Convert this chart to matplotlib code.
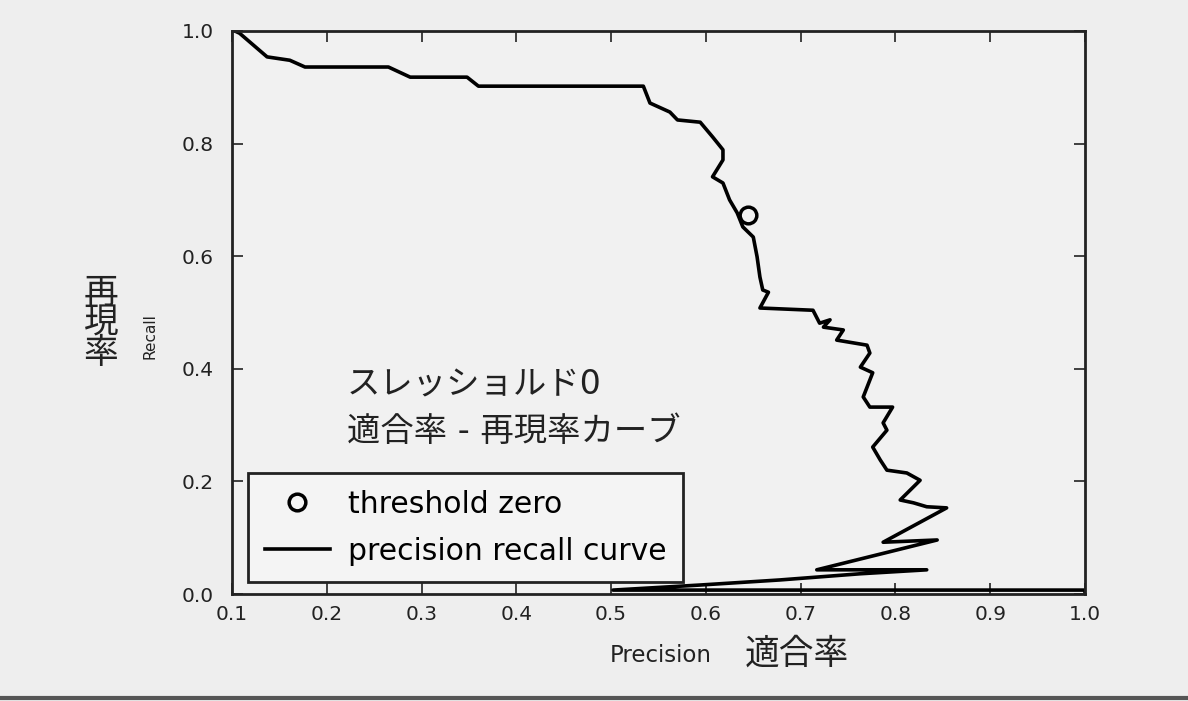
import numpy as np
import matplotlib
matplotlib.use("Agg")
import matplotlib.pyplot as plt
from matplotlib.lines import Line2D

plt.rcParams['font.family'] = ['DejaVu Sans', 'Noto Sans CJK JP']

# precision / recall pairs along the curve, from low threshold to high threshold
precision = [0.103, 0.108, 0.137, 0.161, 0.177, 0.265, 0.288, 0.348, 0.360, 0.534,
             0.541, 0.562, 0.570, 0.594, 0.607, 0.618, 0.618, 0.607, 0.618, 0.625,
             0.633, 0.639, 0.650, 0.654, 0.657, 0.660, 0.666, 0.657, 0.713, 0.720,
             0.731, 0.724, 0.745, 0.738, 0.770, 0.773, 0.763, 0.776, 0.766, 0.773,
             0.797, 0.787, 0.791, 0.776, 0.784, 0.791, 0.812, 0.826, 0.805, 0.819,
             0.833, 0.854, 0.787, 0.844, 0.717, 0.833, 0.763, 0.678, 0.594, 0.502,
             1.000, 1.000]
recall = [1.000, 0.996, 0.954, 0.948, 0.936, 0.936, 0.918, 0.918, 0.902, 0.902,
          0.872, 0.856, 0.842, 0.838, 0.812, 0.789, 0.771, 0.741, 0.730, 0.700,
          0.677, 0.652, 0.634, 0.599, 0.563, 0.540, 0.536, 0.508, 0.504, 0.481,
          0.487, 0.474, 0.469, 0.451, 0.442, 0.428, 0.403, 0.393, 0.350, 0.332,
          0.332, 0.304, 0.291, 0.261, 0.238, 0.220, 0.215, 0.202, 0.167, 0.162,
          0.155, 0.153, 0.092, 0.096, 0.043, 0.043, 0.036, 0.025, 0.016, 0.007,
          0.007, 0.000]

# point of the curve where the decision threshold is zero
zero_precision = 0.644
zero_recall = 0.673

xticks = [0.1, 0.2, 0.3, 0.4, 0.5, 0.6, 0.7, 0.8, 0.9, 1.0]
yticks = [0.0, 0.2, 0.4, 0.6, 0.8, 1.0]

bg = '#eeeeee'
fig = plt.figure(figsize=(11.88, 7.01), dpi=100, facecolor=bg)
ax = fig.add_axes([0.1953, 0.1526, 0.7180, 0.8032], facecolor='#f1f1f1')

ax.plot(zero_precision, zero_recall, 'o', markersize=12, fillstyle='none',
        c='k', mew=2.5, label='threshold zero')
ax.plot(precision, recall, c='k', lw=2.6, label='precision recall curve')

ax.set_xlim(0.1, 1.0)
ax.set_ylim(0.0, 1.0)
ax.set_xticks(xticks)
ax.set_yticks(yticks)
ax.set_xticklabels(['%.1f' % v for v in xticks])
ax.set_yticklabels(['%.1f' % v for v in yticks])
ax.tick_params(direction='in', length=8, width=1.2, top=True, right=True,
               labelsize=14.5, colors='#222222')
ax.tick_params(axis='x', pad=8)
ax.tick_params(axis='y', pad=13)
for s in ax.spines.values():
    s.set_linewidth(2)
    s.set_color('#222222')

ax.text(0.221, 0.371, 'スレッショルド0', fontsize=24, va='center', color='#222222')
ax.text(0.221, 0.288, '適合率 - 再現率カーブ', fontsize=24, va='center', color='#222222')

leg = ax.legend(loc='lower left', bbox_to_anchor=(0.019, 0.021), borderaxespad=0,
                fontsize=21.5, frameon=True, fancybox=False, labelspacing=0.6,
                handlelength=2.2, borderpad=0.55, handletextpad=0.6)
leg.get_frame().set_edgecolor('#222222')
leg.get_frame().set_linewidth(2)
leg.get_frame().set_facecolor('#f4f4f4')
leg.get_frame().set_alpha(1)

fig.text(661 / 1188, 1 - 656 / 701, 'Precision', fontsize=16.5, ha='center',
         va='center', color='#222222')
fig.text(797 / 1188, 1 - 654 / 701, '適合率', fontsize=25, ha='center',
         va='center', color='#222222')
fig.text(150 / 1188, 1 - 336 / 701, 'Recall', fontsize=11, rotation=90,
         ha='center', va='center', color='#222222')
fig.text(101 / 1188, 1 - 323 / 701, '再\n現\n率', fontsize=25, ha='center',
         va='center', linespacing=0.85, color='#222222')

# page edge along the bottom
fig.add_artist(Line2D([0, 1], [0.004, 0.004], color='#555555', lw=3))

fig.savefig('out.png', dpi=100, facecolor=bg)
